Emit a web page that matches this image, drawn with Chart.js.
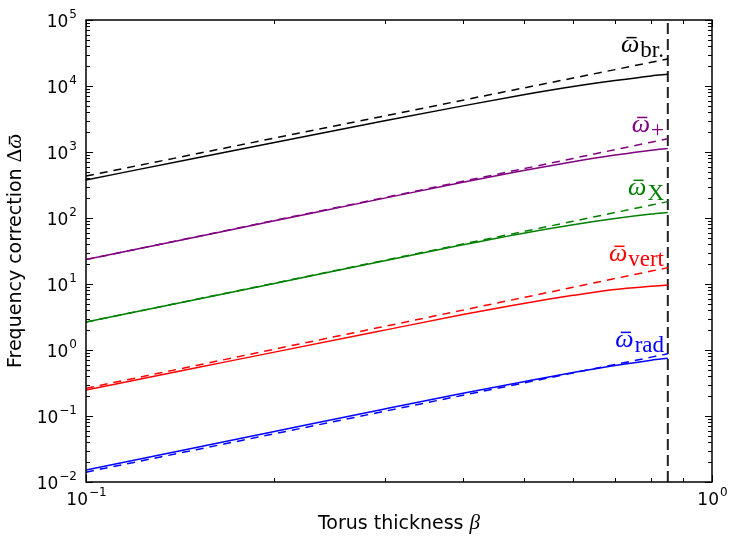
<!DOCTYPE html>
<html>
<head>
<meta charset="utf-8">
<script src="https://cdn.jsdelivr.net/npm/chart.js@4/dist/chart.umd.min.js"></script>
<style>
html, body { margin: 0; padding: 0; background: #fff; }
</style>
</head>
<body>
<canvas id="myChart" width="729" height="536"></canvas>
<script>
// torus thickness values (x) and frequency corrections
var beta = [0.1, 0.15, 0.2, 0.3, 0.4, 0.5, 0.6, 0.7, 0.8, 0.85];

var brFull   = [377, 813, 1396, 2965, 5000, 7350, 9790, 12100, 14220, 15030];
var brApprox = [433, 938, 1625, 3520, 6100, 9330, 13200, 17700, 22900, 25700];
var plusFull   = [23.4, 51.6, 90.6, 200, 348, 524, 711, 897, 1067, 1132];
var plusApprox = [23.4, 52, 92, 204, 360, 558, 800, 1084, 1410, 1585];
var xFull   = [2.65, 5.83, 10.2, 22.5, 39.2, 58.9, 79.1, 98.2, 114.6, 121.3];
var xApprox = [2.65, 5.86, 10.3, 22.9, 40.3, 62.4, 89.1, 121, 157, 177];
var vertFull   = [0.248, 0.537, 0.929, 2.00, 3.44, 5.07, 6.73, 8.28, 9.25, 9.66];
var vertApprox = [0.263, 0.583, 1.03, 2.28, 4.02, 6.24, 8.91, 12.1, 15.7, 17.7];
var radFull   = [0.0152, 0.0333, 0.0583, 0.128, 0.221, 0.331, 0.455, 0.582, 0.702, 0.753];
var radApprox = [0.0141, 0.0309, 0.0538, 0.118, 0.206, 0.316, 0.449, 0.603, 0.78, 0.879];

var cutoff = 0.85;

var curveNames = ['br.', '+', 'X', 'vert', 'rad'];
var curveColors = ['#000000', '#800080', '#008000', '#ff0000', '#0000ff'];
var fullSets = [brFull, plusFull, xFull, vertFull, radFull];
var approxSets = [brApprox, plusApprox, xApprox, vertApprox, radApprox];

var xTickExps = [-1, 0];
var yTickExps = [-2, -1, 0, 1, 2, 3, 4, 5];

function pts(vals) {
    return beta.map(function(b, i) { return {x: b, y: vals[i]}; });
}

var datasets = [];
for (var i = 0; i < curveNames.length; i++) {
    datasets.push({
        data: pts(fullSets[i]),
        borderColor: curveColors[i],
        borderWidth: 1.5,
        pointRadius: 0,
        cubicInterpolationMode: 'monotone',
        fill: false
    });
    datasets.push({
        data: pts(approxSets[i]),
        borderColor: curveColors[i],
        borderWidth: 1.5,
        borderDash: [8, 6],
        pointRadius: 0,
        fill: false
    });
}
datasets.push({
    data: [{x: cutoff, y: 1e-2}, {x: cutoff, y: 1e5}],
    borderColor: '#222222',
    borderWidth: 2,
    borderDash: [11, 5],
    pointRadius: 0,
    fill: false
});

function omegaBar(ctx, x, base, size) {
    ctx.font = 'italic ' + size + 'px "Liberation Serif"';
    var w = ctx.measureText('\u03c9').width;
    ctx.fillText('\u03c9', x, base);
    ctx.fillRect(x + w * 0.3, base - size * 0.58, w * 0.55, 1.5);
    return w;
}

function powerLabel(ctx, exp, x, base, align) {
    var sup = exp < 0 ? '\u2212' + (-exp) : '' + exp;
    ctx.font = '17px "DejaVu Sans"';
    var w1 = ctx.measureText('10').width;
    ctx.font = '12px "DejaVu Sans"';
    var w2 = ctx.measureText(sup).width;
    var left = align === 'right' ? x - w1 - w2 : x - (w1 + w2) / 2;
    ctx.font = '17px "DejaVu Sans"';
    ctx.fillText('10', left, base);
    ctx.font = '12px "DejaVu Sans"';
    ctx.fillText(sup, left + w1 + 1, base - 9);
}

var decorPlugin = {
    id: 'decor',
    afterDatasetsDraw: function(chart) {
        var ctx = chart.ctx;
        var a = chart.chartArea;
        var xs = chart.scales.x, ys = chart.scales.y;
        ctx.save();
        ctx.textAlign = 'left';
        ctx.textBaseline = 'alphabetic';

        // frame
        ctx.strokeStyle = '#000';
        ctx.lineWidth = 1.5;
        ctx.strokeRect(a.left, a.top, a.right - a.left, a.bottom - a.top);

        // ticks (inward, on all sides)
        ctx.lineWidth = 1;
        ctx.beginPath();
        for (var e = -1; e < 0; e++) {
            for (var m = 1; m <= 10; m++) {
                var px = Math.round(xs.getPixelForValue(m * Math.pow(10, e))) + 0.5;
                var len = (m === 1 || m === 10) ? 7 : 4;
                ctx.moveTo(px, a.bottom); ctx.lineTo(px, a.bottom - len);
                ctx.moveTo(px, a.top); ctx.lineTo(px, a.top + len);
            }
        }
        for (var e2 = -2; e2 < 5; e2++) {
            for (var m2 = 1; m2 <= 10; m2++) {
                var py = Math.round(ys.getPixelForValue(m2 * Math.pow(10, e2))) + 0.5;
                var len2 = (m2 === 1 || m2 === 10) ? 7 : 4;
                ctx.moveTo(a.left, py); ctx.lineTo(a.left + len2, py);
                ctx.moveTo(a.right, py); ctx.lineTo(a.right - len2, py);
            }
        }
        ctx.stroke();

        // tick labels
        ctx.fillStyle = '#000';
        xTickExps.forEach(function(ex) {
            powerLabel(ctx, ex, xs.getPixelForValue(Math.pow(10, ex)), a.bottom + 23, 'center');
        });
        yTickExps.forEach(function(ex) {
            powerLabel(ctx, ex, a.left - 10, ys.getPixelForValue(Math.pow(10, ex)) + 7, 'right');
        });

        // x title
        ctx.font = '19px "DejaVu Sans"';
        var t1 = 'Torus thickness ';
        var w1 = ctx.measureText(t1).width;
        ctx.font = 'italic 21px "Liberation Serif"';
        var wb = ctx.measureText('\u03b2').width;
        var cx = (a.left + a.right) / 2;
        var sx = cx - (w1 + wb) / 2;
        ctx.font = '19px "DejaVu Sans"';
        ctx.fillText(t1, sx, 529);
        ctx.font = 'italic 21px "Liberation Serif"';
        ctx.fillText('\u03b2', sx + w1, 529);

        // y title
        ctx.save();
        ctx.translate(21, (a.top + a.bottom) / 2);
        ctx.rotate(-Math.PI / 2);
        ctx.font = '19px "DejaVu Sans"';
        var t2 = 'Frequency correction ';
        var w2 = ctx.measureText(t2).width;
        ctx.font = '21px "Liberation Serif"';
        var wd = ctx.measureText('\u0394').width;
        ctx.font = 'italic 21px "Liberation Serif"';
        var wo = ctx.measureText('\u03c9').width;
        var sy = -(w2 + wd + wo) / 2;
        ctx.font = '19px "DejaVu Sans"';
        ctx.fillText(t2, sy, 0);
        ctx.font = '21px "Liberation Serif"';
        ctx.fillText('\u0394', sy + w2, 0);
        omegaBar(ctx, sy + w2 + wd, 0, 21);
        ctx.restore();

        // curve labels
        var right = a.right - 48;
        for (var k = 0; k < curveNames.length; k++) {
            var vals = approxSets[k];
            var base = ys.getPixelForValue(vals[vals.length - 1]) - 7;
            ctx.fillStyle = curveColors[k];
            ctx.font = '23px "Liberation Serif"';
            var sw = ctx.measureText(curveNames[k]).width;
            ctx.fillText(curveNames[k], right - sw, base + 5);
            ctx.font = 'italic 26px "Liberation Serif"';
            var ow = ctx.measureText('\u03c9').width;
            omegaBar(ctx, right - sw - ow - 1, base, 26);
        }
        ctx.restore();
    }
};

var ctx = document.getElementById('myChart').getContext('2d');
var myChart = new Chart(ctx, {
    type: 'line',
    data: { datasets: datasets },
    options: {
        responsive: false,
        devicePixelRatio: 1,
        animation: false,
        layout: { padding: { left: 86, top: 20, right: 17, bottom: 54 } },
        plugins: { legend: { display: false }, tooltip: { enabled: false } },
        scales: {
            x: { type: 'logarithmic', min: 0.1, max: 1, display: false },
            y: { type: 'logarithmic', min: 1e-2, max: 1e5, display: false }
        }
    },
    plugins: [decorPlugin]
});
</script>
</body>
</html>
